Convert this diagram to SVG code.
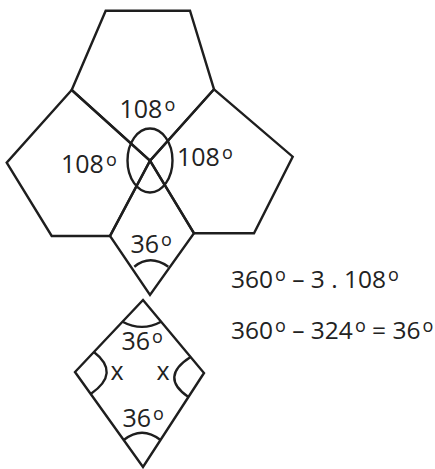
<svg xmlns="http://www.w3.org/2000/svg" width="435" height="469" viewBox="0 0 435 469">
<style>
.s{fill:none;stroke:#1e1e1e;stroke-width:2.4;stroke-linejoin:miter}
.t{font-family:"Open Sans","Noto Sans",sans-serif;font-size:25px;fill:#222}
.e{font-size:24.5px}
.d{font-size:18px}
</style>
<rect width="435" height="469" fill="#fff"/>
<g id="shapes">
<g id="pentagon-top"><polygon class="s" points="105.7,10.7 190,10.7 214,89.3 150,160.7 71.7,90"/></g>
<g id="pentagon-left"><polygon class="s" points="71.7,90 6.7,162.7 51.7,236 110,236 150,160.7"/></g>
<g id="pentagon-right"><polygon class="s" points="214,89.3 292.7,156.7 254,233.3 194,233.3 150,160.7"/></g>
<g id="rhombus-top"><polygon class="s" points="150,160.7 194,233.3 150,295 110,236"/></g>
<g id="rhombus-bottom"><polygon class="s" points="143,300 204,373 143,467 75,372"/></g>
</g>
<g id="arcs">
<ellipse class="s" cx="150" cy="160.5" rx="22.5" ry="32"/>
<path class="s" d="M134.3,266.7 Q150,254 168.3,266.7"/>
<path class="s" d="M122.5,321.7 Q142,332 161.1,321.7"/>
<path class="s" d="M93.9,352 Q121,373 90.7,394"/>
<path class="s" d="M190.6,357 Q159.1,377 188.4,397"/>
<path class="s" d="M123.7,440 Q142,425.4 160.5,440"/>
</g>
<g id="labels">
<text class="t" x="119.5" y="118.3">108<tspan class="d" dx="2" dy="-7">o</tspan></text>
<text class="t" x="61" y="172.7">108<tspan class="d" dx="2" dy="-7">o</tspan></text>
<text class="t" x="177" y="165.7">108<tspan class="d" dx="2" dy="-7">o</tspan></text>
<text class="t" x="130.5" y="252.7">36<tspan class="d" dx="2" dy="-7">o</tspan></text>
<text class="t" x="121.5" y="350">36<tspan class="d" dx="2" dy="-7">o</tspan></text>
<text class="t" x="110.5" y="380">x</text>
<text class="t" x="156.5" y="380">x</text>
<text class="t" x="122.5" y="426.7">36<tspan class="d" dx="2" dy="-7">o</tspan></text>
<text class="t e" x="231" y="288">360<tspan class="d" dx="2" dy="-7">o</tspan><tspan dy="7"> – 3 . 108</tspan><tspan class="d" dx="2" dy="-7">o</tspan></text>
<text class="t e" x="231" y="339">360<tspan class="d" dx="2" dy="-7">o</tspan><tspan dy="7"> – 324</tspan><tspan class="d" dx="2" dy="-7">o</tspan><tspan dy="7"> = 36</tspan><tspan class="d" dx="2" dy="-7">o</tspan></text>
</g>
</svg>
